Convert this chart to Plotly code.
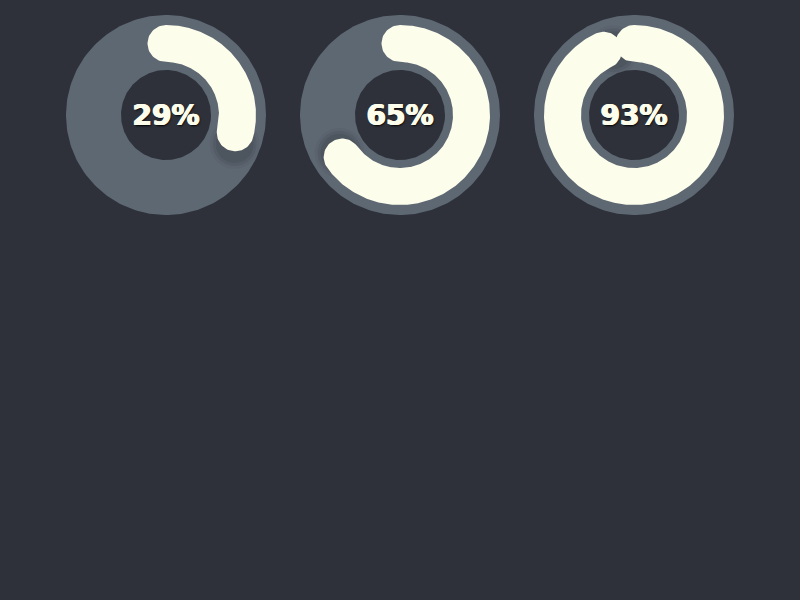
import numpy as np
import plotly.graph_objects as go

# progress values for the three rings
values = [29, 65, 93]
labels = ["29%", "65%", "93%"]
centers_x = [166, 400, 634]
center_y = 115

BG = "#2e3139"
TRACK = "#5e6873"
CREAM = "#fdfdec"

R_OUT = 100      # grey disk
R_HOLE = 45      # dark centre
R_IN = 53        # progress band inner edge
R_BAND = 90      # progress band outer edge


def circle(cx, cy, r, n=200):
    t = np.linspace(0, 2 * np.pi, n)
    return cx + r * np.cos(t), cy - r * np.sin(t)


def arc_band(cx, cy, value, n=240):
    """Band polygon with round caps, clockwise from 12 o'clock."""
    a0 = np.pi / 2
    a1 = a0 - 2 * np.pi * value / 100
    rm = (R_IN + R_BAND) / 2
    w = (R_BAND - R_IN) / 2
    outer = np.linspace(a0, a1, n)
    xs = list(R_BAND * np.cos(outer))
    ys = list(R_BAND * np.sin(outer))
    # end cap
    phi = np.linspace(a1, a1 - np.pi, 40)
    xs += list(rm * np.cos(a1) + w * np.cos(phi))
    ys += list(rm * np.sin(a1) + w * np.sin(phi))
    inner = np.linspace(a1, a0, n)
    xs += list(R_IN * np.cos(inner))
    ys += list(R_IN * np.sin(inner))
    # start cap
    phi = np.linspace(a0 + np.pi, a0, 40)
    xs += list(rm * np.cos(a0) + w * np.cos(phi))
    ys += list(rm * np.sin(a0) + w * np.sin(phi))
    return cx + np.array(xs), cy - np.array(ys)


fig = go.Figure()

for cx, v, lab in zip(centers_x, values, labels):
    x, y = circle(cx, center_y, R_OUT)
    fig.add_trace(go.Scatter(x=x, y=y, fill="toself", fillcolor=TRACK, mode="lines",
                             line=dict(width=0), hoverinfo="skip"))

    # soft shadow just past the end of the band
    a_end = np.pi / 2 - 2 * np.pi * v / 100 - 0.12
    rm = (R_IN + R_BAND) / 2
    for s, op in [(50, 0.04), (44, 0.06), (38, 0.08)]:
        fig.add_trace(go.Scatter(x=[cx + rm * np.cos(a_end) + 2], y=[center_y - rm * np.sin(a_end) + 3],
                                 mode="markers", hoverinfo="skip",
                                 marker=dict(size=s, color="rgba(0,0,0,%s)" % op, line=dict(width=0))))

    x, y = arc_band(cx, center_y, v)
    fig.add_trace(go.Scatter(x=x, y=y, fill="toself", fillcolor=CREAM, mode="lines",
                             line=dict(width=0), hoverinfo="skip"))

    x, y = circle(cx, center_y, R_HOLE)
    fig.add_trace(go.Scatter(x=x, y=y, fill="toself", fillcolor=BG, mode="lines",
                             line=dict(width=0), hoverinfo="skip"))

    # same-colour shadows thicken the strokes a little, dark one gives the drop shadow
    fig.add_trace(go.Scatter(x=[cx], y=[center_y + 2.5], mode="text", text=[lab],
                             textposition="middle center", hoverinfo="skip",
                             textfont=dict(family="DejaVu Sans", size=28, color=CREAM, weight="bold",
                                           shadow="0.7px 0 0 %s, -0.7px 0 0 %s, 1px 1px 2px #000" % (CREAM, CREAM))))

fig.update_layout(
    width=800, height=600,
    margin=dict(l=0, r=0, t=0, b=0),
    paper_bgcolor=BG, plot_bgcolor=BG,
    showlegend=False,
    xaxis=dict(range=[0, 800], visible=False, fixedrange=True),
    yaxis=dict(range=[600, 0], visible=False, fixedrange=True),
)

# drop the default page margin so the chart sits at 0,0
fig.write_html("out.html", config={"displayModeBar": False},
               post_script="document.body.style.margin='0';document.body.style.background='%s';" % BG)
